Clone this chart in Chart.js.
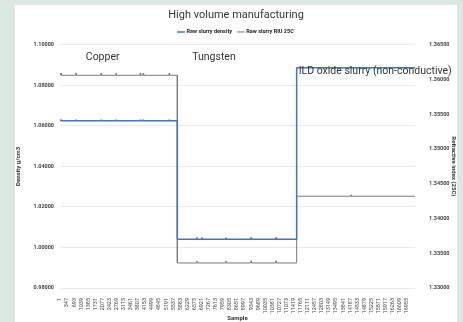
<!DOCTYPE html>
<html>
<head>
<meta charset="utf-8">
<script src="https://cdn.jsdelivr.net/npm/chart.js@4"></script>
<style>
  html, body { margin: 0; padding: 0; background: #dde8e3; }
  #card { position: absolute; left: 15px; top: 5px; width: 442px; height: 317px; background: #fff; }
  canvas { display: block; }
</style>
</head>
<body>
<div id="card"><canvas id="myChart" width="442" height="317"></canvas></div>
<script>
// slurry segments along the sample axis
const segmentNames = ['Copper', 'Tungsten', 'ILD oxide slurry (non-conductive)'];
const segmentStart = [1, 5735, 11566];
const segmentEnd = [5735, 11566, 17350];
const densityLevel = [1.0625, 1.0040, 1.0886];
const riuLevel = [1.3606, 1.3336, 1.3432];

// small spikes seen on the traces: [sample, value]
const densityBlips = [[50, 1.0630], [785, 1.0630], [2010, 1.0629], [2745, 1.0630], [3920, 1.0630], [4070, 1.0630], [5340, 1.0630],
    [6690, 1.0050], [6935, 1.0049], [8110, 1.0048], [9340, 1.0049], [10560, 1.0050], [14230, 1.0891]];
const riuBlips = [[50, 1.3609], [785, 1.3609], [2010, 1.3609], [2745, 1.3609], [3920, 1.3609], [4070, 1.3609], [5340, 1.3609],
    [6690, 1.3339], [8110, 1.3339], [9340, 1.3339], [10560, 1.3339], [14230, 1.3434]];

const tickLabels = [1, 347, 693, 1039, 1385, 1731, 2077, 2423, 2769, 3115, 3461, 3807, 4153, 4499, 4845, 5191, 5537,
    5883, 6229, 6575, 6921, 7267, 7613, 7959, 8305, 8651, 8997, 9343, 9689, 10035, 10381, 10727, 11073, 11419, 11765,
    12111, 12457, 12803, 13149, 13495, 13841, 14187, 14533, 14879, 15225, 15571, 15917, 16263, 16609, 16955];

function buildSeries(levels, blips) {
    const pts = [];
    for (let i = 0; i < levels.length; i++) {
        pts.push({ x: segmentStart[i], y: levels[i] });
        blips.filter(b => b[0] > segmentStart[i] && b[0] < segmentEnd[i]).forEach(b => {
            pts.push({ x: b[0] - 20, y: levels[i] });
            pts.push({ x: b[0], y: b[1] });
            pts.push({ x: b[0] + 20, y: levels[i] });
        });
        pts.push({ x: segmentEnd[i], y: levels[i] });
    }
    return pts;
}

const font = 'Roboto, "Liberation Sans", sans-serif';

const segmentLabels = {
    id: 'segmentLabels',
    afterDatasetsDraw(chart) {
        const ctx = chart.ctx;
        const x = chart.scales.x;
        const top = chart.chartArea.top;
        ctx.save();
        ctx.font = '10.5px ' + font;
        ctx.fillStyle = '#333';
        ctx.textBaseline = 'middle';
        ctx.textAlign = 'center';
        ctx.fillText(segmentNames[0], (x.getPixelForValue(segmentStart[0]) + x.getPixelForValue(segmentEnd[0])) / 2 - 16, top + 13);
        ctx.fillText(segmentNames[1], (x.getPixelForValue(segmentStart[1]) + x.getPixelForValue(segmentEnd[1])) / 2 - 23, top + 13);
        ctx.textAlign = 'left';
        ctx.fillText(segmentNames[2], x.getPixelForValue(segmentStart[2]) + 2, top + 27);
        ctx.restore();
    }
};

const ctx = document.getElementById('myChart').getContext('2d');
const myChart = new Chart(ctx, {
    type: 'line',
    data: {
        datasets: [
            {
                label: 'Raw slurry density',
                data: buildSeries(densityLevel, densityBlips),
                borderColor: '#4472c4',
                borderWidth: 1.5,
                borderJoinStyle: 'bevel',
                pointRadius: 0,
                yAxisID: 'y'
            },
            {
                label: 'Raw slurry RIU 25C',
                data: buildSeries(riuLevel, riuBlips),
                borderColor: '#7a7a7a',
                borderWidth: 1,
                borderJoinStyle: 'bevel',
                pointRadius: 0,
                yAxisID: 'y1'
            }
        ]
    },
    options: {
        responsive: false,
        animation: false,
        layout: { padding: { top: 4, bottom: 0, left: 0, right: 0 } },
        plugins: {
            title: {
                display: true,
                text: 'High volume manufacturing',
                color: '#333',
                font: { family: font, size: 11, weight: 'normal' },
                padding: { top: 0, bottom: 1 }
            },
            legend: {
                labels: {
                    usePointStyle: true,
                    pointStyle: 'line',
                    boxWidth: 12,
                    color: '#222',
                    font: { family: font, size: 5.5, weight: 'bold' },
                    padding: 6
                }
            },
            tooltip: { enabled: false }
        },
        scales: {
            x: {
                type: 'linear',
                min: 1,
                max: 17350,
                afterBuildTicks: scale => { scale.ticks = tickLabels.map(v => ({ value: v })); },
                afterFit: scale => { scale.height = 34; },
                grid: { display: false },
                border: { display: false },
                ticks: {
                    autoSkip: false,
                    maxRotation: 90,
                    minRotation: 90,
                    padding: 2,
                    color: '#444',
                    font: { family: font, size: 5.5 },
                    callback: v => String(v)
                },
                title: {
                    display: true,
                    text: 'Sample',
                    color: '#333',
                    font: { family: font, size: 6, weight: 'bold' },
                    padding: 0
                }
            },
            y: {
                position: 'left',
                min: 0.98,
                max: 1.10,
                afterFit: scale => { scale.width = 45; },
                ticks: {
                    stepSize: 0.02,
                    padding: 6,
                    color: '#444',
                    font: { family: font, size: 5.5, weight: 'bold' },
                    callback: v => v.toFixed(5)
                },
                grid: { color: '#ebebeb', drawTicks: false },
                border: { display: false },
                title: {
                    display: true,
                    text: 'Density g/cm3',
                    color: '#333',
                    font: { family: font, size: 6, weight: 'bold' },
                    padding: 0
                }
            },
            y1: {
                position: 'right',
                min: 1.33,
                max: 1.365,
                afterFit: scale => { scale.width = 42; },
                ticks: {
                    stepSize: 0.005,
                    padding: 6,
                    color: '#444',
                    font: { family: font, size: 5.5, weight: 'bold' },
                    callback: v => v.toFixed(5)
                },
                grid: { display: false },
                border: { display: false },
                title: {
                    display: true,
                    text: 'Refractive index (25C)',
                    color: '#333',
                    font: { family: font, size: 6, weight: 'bold' },
                    padding: 0
                }
            }
        }
    },
    plugins: [segmentLabels]
});
</script>
</body>
</html>
